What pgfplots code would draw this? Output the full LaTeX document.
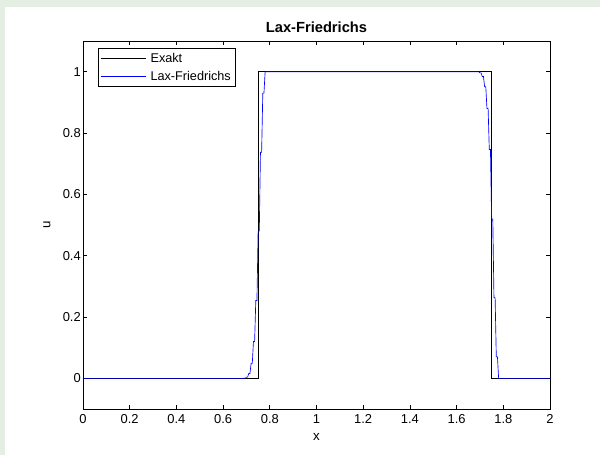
\documentclass[border=0pt]{standalone}
\usepackage{pgfplots}
\pgfplotsset{compat=1.18}
\usepackage{fontspec}
\setmainfont{Liberation Sans}
\definecolor{framegreen}{RGB}{228,238,226}

% Exact solution: square pulse shifted to [0.75,1.75]
\pgfplotstableread{
x u
0 0
0.75 0
0.75 1
1.75 1
1.75 0
2 0
}\exakt

% Lax-Friedrichs solution (dx = 0.005), values come in pairs
\pgfplotstableread{
x u
0 0
0.680 0
0.685 0
0.690 0.0005
0.695 0.0005
0.700 0.004
0.705 0.004
0.710 0.016
0.715 0.016
0.720 0.049
0.725 0.049
0.730 0.12
0.735 0.12
0.740 0.254
0.745 0.254
0.750 0.48
0.755 0.48
0.760 0.737
0.765 0.737
0.770 0.93
0.775 0.93
0.780 1
0.785 1
1.690 1
1.695 1
1.700 0.996
1.705 0.996
1.710 0.984
1.715 0.984
1.720 0.951
1.725 0.951
1.730 0.88
1.735 0.88
1.740 0.746
1.745 0.746
1.750 0.52
1.755 0.52
1.760 0.263
1.765 0.263
1.770 0.07
1.775 0.07
1.780 0
1.785 0
2 0
}\laxf

\begin{document}
\begin{tikzpicture}
% page background with the light green band on top and left
\fill[white] (-62.25pt,-34.5pt) rectangle (387.75pt,306.75pt);
\fill[framegreen] (-62.25pt,301.5pt) rectangle (387.75pt,306.75pt);
\fill[framegreen] (-62.25pt,-34.5pt) rectangle (-58.5pt,306.75pt);
\path[use as bounding box] (-62.25pt,-34.5pt) rectangle (387.75pt,306.75pt);
\begin{axis}[
  at={(0pt,0pt)}, anchor=south west,
  scale only axis,
  width=350.25pt, height=276pt,
  xmin=0, xmax=2, ymin=-0.1, ymax=1.1,
  xtick={0,0.2,...,2.01},
  ytick={0,0.2,...,1.01},
  tick align=inside,
  major tick length=3pt,
  tick style={black, line width=0.5pt},
  axis line style={black, line width=0.6pt},
  /pgf/number format/assume math mode=true,
  tick label style={font=\fontsize{9.7}{11}\selectfont},
  xticklabel style={yshift=-0.5pt},
  yticklabel style={inner xsep=1.5pt},
  every axis title shift=0pt,
  title={\textbf{Lax-Friedrichs}},
  title style={font=\fontsize{11}{13}\selectfont, at={(0.5,1)}, anchor=base, yshift=6.2pt, inner sep=0pt},
  xlabel={x},
  ylabel={u},
  label style={font=\fontsize{10}{12}\selectfont},
  xlabel style={at={(0.5,0)}, anchor=center, yshift=-21pt},
  ylabel style={at={(0,0.5)}, anchor=center, yshift=27pt},
  legend style={at={(0.0325,0.981)}, anchor=north west, draw=black, line width=0.6pt,
    fill=white, font=\fontsize{9.5}{11}\selectfont, inner xsep=1.5pt, inner ysep=1.5pt,
    row sep=1pt,
    /tikz/every odd column/.append style={column sep=1pt}},
  legend cell align=left,
  legend image code/.code={\path (0pt,0pt) -- (3pt,0pt);
    \draw[#1, line width=0.5pt] (3pt,0pt) -- (34pt,0pt);},
]
\addplot[black, line width=0.5pt] table[x=x, y=u] {\exakt};
\addlegendentry{Exakt}
\addplot[blue, line width=0.5pt] table[x=x, y=u] {\laxf};
\addlegendentry{Lax-Friedrichs}
\end{axis}
\end{tikzpicture}
\end{document}
